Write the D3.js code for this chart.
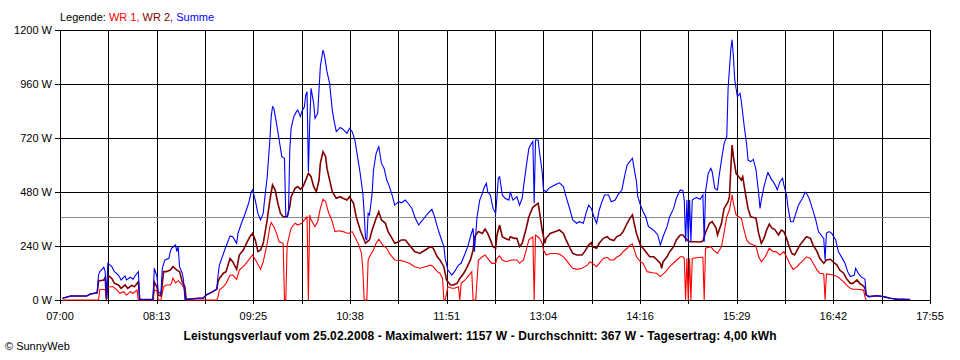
<!DOCTYPE html>
<html><head><meta charset="utf-8">
<script src="https://cdn.jsdelivr.net/npm/d3@7"></script>
<style>
body{margin:0;background:#fff}
svg{display:block}
text{font-family:"Liberation Sans",Arial,sans-serif;font-size:11px;fill:#000}
</style>
</head><body>
<svg id="chart" width="960" height="360"></svg>
<script>
const timeLabels = ["07:00","08:13","09:25","10:38","11:51","13:04","14:16","15:29","16:42","17:55"];
const wattTicks = [0,240,480,720,960,1200];
const averageW = 367;
const legendItems = [
  {label:"Legende: ", color:"#000000"},
  {label:"WR 1, ", color:"#ff0000"},
  {label:"WR 2, ", color:"#800000"},
  {label:"Summe", color:"#0000ff"}
];
const titleText = "Leistungsverlauf vom 25.02.2008 - Maximalwert: 1157 W - Durchschnitt: 367 W - Tagesertrag: 4,00 kWh";
const footerText = "\u00A9 SunnyWeb";

// WR 1 (red)
const wr1 = [
["07:02",0],["07:29",0],["07:30",47],["07:34",47],["07:35",0],["07:36",59],["07:40",59],["07:43",44],["07:45",30],["07:48",37],
["07:50",22],["07:53",37],["07:55",30],["07:58",44],["07:59",0],["08:10",0],["08:11",44],["08:13",40],["08:14",0],["08:16",0],
["08:18",59],["08:20",67],["08:23",67],["08:24",74],["08:25",98],["08:27",76],["08:29",86],["08:32",67],["08:34",44],["08:35",0],
["08:58",0],["08:59",15],["09:00",44],["09:03",59],["09:05",74],["09:08",110],["09:10",111],["09:13",92],["09:15",133],["09:19",155],
["09:23",185],["09:25",200],["09:28",170],["09:31",136],["09:33",170],["09:36",252],["09:38",326],["09:39",344],["09:41",326],["09:43",296],
["09:45",259],["09:48",252],["09:49",0],["09:50",0],["09:51",244],["09:53",296],["09:54",319],["09:57",341],["09:59",333],["10:02",341],
["10:04",356],["10:06",370],["10:07",0],["10:08",378],["10:09",356],["10:12",326],["10:14",348],["10:16",407],["10:18",448],["10:20",437],
["10:22",392],["10:25",348],["10:27",304],["10:30",308],["10:33",304],["10:37",296],["10:40",304],["10:42",281],["10:45",244],["10:47",207],
["10:48",133],["10:49",0],["10:51",0],["10:52",178],["10:53",192],["10:56",222],["10:58",252],["11:00",270],["11:03",244],["11:06",230],
["11:08",207],["11:12",178],["11:16",176],["11:20",170],["11:23",163],["11:27",148],["11:31",141],["11:35",148],["11:39",155],["11:41",148],
["11:44",126],["11:46",119],["11:48",96],["11:49",0],["11:50",0],["11:52",59],["11:55",52],["11:57",52],["12:00",59],["12:01",0],
["12:02",74],["12:05",89],["12:07",104],["12:10",126],["12:11",0],["12:13",0],["12:15",178],["12:18",192],["12:20",200],["12:22",185],
["12:25",163],["12:28",163],["12:29",185],["12:31",196],["12:33",178],["12:36",170],["12:40",178],["12:44",178],["12:46",163],["12:49",178],
["12:51",222],["12:53",267],["12:56",281],["12:57",0],["12:58",289],["13:00",280],["13:01",274],["13:03",252],["13:04",222],["13:06",200],
["13:09",207],["13:13",207],["13:16",204],["13:19",192],["13:21",178],["13:24",155],["13:26",141],["13:29",136],["13:33",141],["13:37",155],
["13:39",170],["13:41",163],["13:44",148],["13:46",163],["13:49",185],["13:52",190],["13:54",178],["13:57",178],["13:59",190],["14:02",200],
["14:04",215],["14:07",230],["14:09",244],["14:11",249],["14:12",230],["14:14",192],["14:17",170],["14:19",163],["14:22",126],["14:26",121],
["14:29",119],["14:32",104],["14:36",126],["14:39",148],["14:43",170],["14:47",192],["14:49",192],["14:50",185],["14:51",0],["14:52",185],
["14:53",0],["14:54",185],["14:55",0],["14:56",185],["14:59",188],["15:03",190],["15:04",190],["15:05",0],["15:06",230],["15:10",237],
["15:12",222],["15:15",207],["15:18",237],["15:20",300],["15:22",370],["15:24",400],["15:26",467],["15:27",430],["15:29",378],["15:31",370],
["15:33",363],["15:35",311],["15:37",267],["15:39",252],["15:42",244],["15:44",240],["15:46",192],["15:48",170],["15:51",192],["15:54",230],
["15:57",215],["15:59",215],["16:02",200],["16:05",215],["16:07",192],["16:10",155],["16:12",136],["16:15",148],["16:17",163],["16:20",178],
["16:22",192],["16:25",185],["16:27",163],["16:30",133],["16:32",119],["16:35",116],["16:36",0],["16:37",116],["16:42",111],["16:45",104],
["16:47",96],["16:50",81],["16:52",67],["16:55",52],["16:57",48],["17:00",48],["17:05",44],["17:06",15],["17:07",0]
];

// WR 2 (dark red)
const wr2 = [
["07:02",8],["07:08",18],["07:20",18],["07:23",27],["07:28",32],["07:29",85],["07:33",89],["07:34",100],["07:35",2],["07:36",111],
["07:39",96],["07:41",74],["07:44",67],["07:46",52],["07:49",67],["07:51",52],["07:54",65],["07:56",59],["07:59",81],["08:00",2],
["08:10",2],["08:11",81],["08:13",58],["08:14",22],["08:16",18],["08:18",126],["08:20",126],["08:23",133],["08:25",148],["08:28",133],
["08:30",126],["08:32",81],["08:34",59],["08:35",2],["08:42",7],["08:48",9],["08:50",22],["08:55",37],["08:58",48],["08:59",81],
["09:00",96],["09:03",119],["09:05",126],["09:08",185],["09:10",170],["09:13",136],["09:15",200],["09:18",222],["09:21",259],["09:23",281],
["09:25",296],["09:27",267],["09:29",215],["09:31",222],["09:33",252],["09:36",356],["09:38",444],["09:40",511],["09:42",489],["09:44",430],
["09:46",385],["09:48",370],["09:51",370],["09:53",415],["09:54",459],["09:57",496],["09:59",504],["10:01",492],["10:03",504],["10:05",533],
["10:07",563],["10:09",548],["10:11",504],["10:13",481],["10:15",533],["10:16",607],["10:18",659],["10:20",637],["10:21",585],["10:23",533],
["10:25",481],["10:28",452],["10:31",459],["10:33",452],["10:36",444],["10:38",459],["10:41",430],["10:43",370],["10:46",311],["10:48",281],
["10:50",252],["10:53",267],["10:55",311],["10:58",363],["11:00",392],["11:02",356],["11:05",341],["11:07",304],["11:10",274],["11:12",252],
["11:15",259],["11:17",267],["11:20",267],["11:23",244],["11:27",215],["11:31",207],["11:35",222],["11:39",237],["11:41",230],["11:44",192],
["11:46",178],["11:49",148],["11:51",89],["11:54",67],["11:56",67],["11:59",74],["12:01",96],["12:04",119],["12:06",141],["12:09",178],
["12:11",222],["12:12",281],["12:15",304],["12:18",296],["12:20",315],["12:22",296],["12:24",267],["12:26",237],["12:28",230],["12:29",289],
["12:31",333],["12:33",281],["12:35",274],["12:38",267],["12:39",281],["12:42",274],["12:44",274],["12:46",237],["12:48",252],["12:51",319],
["12:53",370],["12:56",412],["12:58",422],["13:00",430],["13:01",392],["13:03",311],["13:05",252],["13:06",274],["13:09",296],["13:13",304],
["13:16",311],["13:19",296],["13:21",267],["13:24",230],["13:26",207],["13:29",200],["13:33",200],["13:35",215],["13:38",244],["13:40",255],
["13:41",237],["13:44",230],["13:46",252],["13:49",274],["13:52",281],["13:54",270],["13:57",264],["13:59",281],["14:02",289],["14:04",304],
["14:07",341],["14:09",363],["14:11",378],["14:12",348],["14:14",296],["14:17",244],["14:19",230],["14:22",207],["14:24",192],["14:27",192],
["14:29",181],["14:32",163],["14:33",141],["14:34",170],["14:37",192],["14:39",215],["14:42",237],["14:44",267],["14:47",289],["14:49",289],
["14:52",267],["14:54",259],["14:58",259],["15:02",258],["15:04",262],["15:06",300],["15:09",341],["15:11",348],["15:14",319],["15:15",289],
["15:18",341],["15:20",407],["15:23",437],["15:24",459],["15:25",578],["15:26",689],["15:27",637],["15:29",563],["15:31",548],["15:33",533],
["15:34",548],["15:36",474],["15:38",407],["15:40",370],["15:42",367],["15:44",363],["15:46",296],["15:48",252],["15:50",274],["15:52",311],
["15:54",337],["15:56",319],["15:58",314],["16:01",289],["16:03",311],["16:05",304],["16:07",274],["16:09",237],["16:11",207],["16:13",200],
["16:15",222],["16:17",244],["16:20",267],["16:22",281],["16:25",274],["16:27",244],["16:30",215],["16:32",185],["16:35",163],["16:37",178],
["16:40",181],["16:42",170],["16:45",155],["16:47",133],["16:50",119],["16:52",96],["16:55",74],["16:57",74],["17:00",89],["17:02",74],
["17:05",62],["17:06",52],["17:07",22],["17:09",15],["17:15",19],["17:20",15],["17:25",8],["17:30",4],["17:40",2]
];

// Summe (blue)
const summe = [
["07:02",8],["07:08",18],["07:20",18],["07:23",27],["07:28",32],["07:29",111],["07:30",126],["07:33",145],["07:34",126],["07:35",3],
["07:36",163],["07:39",148],["07:41",126],["07:44",111],["07:46",89],["07:49",107],["07:50",89],["07:53",101],["07:55",92],["07:57",111],
["07:59",126],["08:00",2],["08:10",2],["08:11",141],["08:13",104],["08:14",36],["08:16",27],["08:17",141],["08:19",178],["08:22",185],
["08:23",215],["08:24",230],["08:27",244],["08:28",215],["08:29",237],["08:30",148],["08:32",119],["08:33",89],["08:34",3],["08:42",7],
["08:48",9],["08:50",22],["08:55",37],["08:58",48],["08:59",111],["09:00",155],["09:04",222],["09:08",285],["09:10",281],["09:13",252],
["09:14",296],["09:17",348],["09:19",378],["09:22",430],["09:24",481],["09:25",489],["09:27",444],["09:29",385],["09:31",356],["09:33",385],
["09:34",444],["09:36",548],["09:38",711],["09:39",815],["09:40",859],["09:41",852],["09:43",785],["09:45",711],["09:47",637],["09:49",630],
["09:50",370],["09:51",370],["09:52",385],["09:53",667],["09:54",763],["09:56",815],["09:58",837],["09:59",844],["10:01",815],["10:02",837],
["10:04",859],["10:05",911],["10:06",926],["10:07",570],["10:08",785],["10:09",941],["10:11",874],["10:12",807],["10:14",830],["10:15",933],
["10:16",1037],["10:18",1111],["10:19",1089],["10:21",1015],["10:23",963],["10:25",844],["10:26",807],["10:28",748],["10:31",767],["10:33",759],
["10:36",741],["10:38",763],["10:40",748],["10:42",711],["10:44",637],["10:46",563],["10:48",474],["10:49",385],["10:50",274],["10:51",267],
["10:52",385],["10:53",378],["10:55",474],["10:56",578],["10:58",652],["11:00",681],["11:02",607],["11:04",585],["11:06",533],["11:08",504],
["11:10",467],["11:12",422],["11:15",437],["11:17",432],["11:20",444],["11:22",430],["11:25",407],["11:27",370],["11:30",333],["11:32",348],
["11:35",370],["11:37",385],["11:40",403],["11:42",370],["11:44",326],["11:46",289],["11:49",237],["11:50",185],["11:52",133],["11:55",111],
["11:57",126],["12:00",155],["12:02",163],["12:05",207],["12:07",237],["12:09",281],["12:11",319],["12:12",215],["12:14",370],["12:16",444],
["12:18",474],["12:19",496],["12:21",519],["12:22",481],["12:24",467],["12:26",407],["12:28",385],["12:29",459],["12:30",541],["12:31",548],
["12:33",467],["12:35",452],["12:38",444],["12:39",481],["12:41",444],["12:44",459],["12:46",422],["12:48",452],["12:49",504],["12:51",593],
["12:53",674],["12:55",696],["12:56",704],["12:57",430],["12:58",711],["13:00",711],["13:01",659],["13:03",570],["13:04",489],["13:06",481],
["13:08",496],["13:11",507],["13:14",516],["13:16",521],["13:19",504],["13:21",459],["13:24",400],["13:26",356],["13:29",341],["13:31",348],
["13:34",341],["13:36",385],["13:38",422],["13:40",407],["13:42",370],["13:44",341],["13:46",400],["13:48",437],["13:50",467],["13:53",467],
["13:55",437],["13:58",444],["14:00",467],["14:03",489],["14:05",548],["14:07",600],["14:09",615],["14:11",630],["14:12",593],["14:14",526],
["14:15",459],["14:17",422],["14:19",392],["14:21",370],["14:23",326],["14:25",319],["14:28",304],["14:30",289],["14:32",244],["14:34",281],
["14:37",326],["14:39",370],["14:42",407],["14:44",452],["14:47",489],["14:49",486],["14:50",444],["14:51",259],["14:52",444],["14:53",259],
["14:54",444],["14:55",259],["14:56",444],["14:59",456],["15:02",448],["15:04",467],["15:05",259],["15:06",481],["15:08",563],["15:10",585],
["15:11",570],["15:13",496],["15:15",489],["15:16",541],["15:18",622],["15:20",696],["15:22",726],["15:23",941],["15:25",1111],["15:26",1157],
["15:27",1081],["15:28",978],["15:29",941],["15:30",904],["15:32",919],["15:33",881],["15:35",778],["15:37",689],["15:38",622],["15:40",615],
["15:42",625],["15:44",578],["15:46",474],["15:47",407],["15:48",444],["15:50",504],["15:52",548],["15:53",566],["15:56",533],["15:57",526],
["15:59",504],["16:00",489],["16:02",526],["16:04",541],["16:05",511],["16:07",467],["16:08",415],["16:10",348],["16:12",348],["16:14",385],
["16:16",422],["16:19",452],["16:21",479],["16:22",474],["16:24",452],["16:26",415],["16:29",356],["16:31",304],["16:34",281],["16:35",274],
["16:36",178],["16:37",296],["16:39",304],["16:41",296],["16:44",267],["16:46",215],["16:49",185],["16:51",163],["16:53",126],["16:55",104],
["16:58",111],["16:59",141],["17:01",119],["17:03",104],["17:05",96],["17:06",93],["17:07",22],["17:09",15],["17:15",19],["17:20",15],
["17:25",8],["17:30",4],["17:40",2]
];

(function draw() {
  const toMin = s => { const [h,m] = s.split(":").map(Number); return h*60+m; };

  const svg = d3.select("#chart");
  const pLeft = 60, pRight = 930, pTop = 30, pBottom = 300;

  const tStart = toMin(timeLabels[0]), tEnd = toMin(timeLabels[timeLabels.length-1]);
  const x = d3.scaleLinear().domain([tStart, tEnd]).range([pLeft, pRight]);
  const y = d3.scaleLinear().domain([0, 1200]).range([pBottom, pTop]);
  const px = v => Math.round(v) + 0.5;

  const nMajor = timeLabels.length - 1;
  const gridTimes = d3.range(nMajor*2 + 1).map(i => tStart + i*(tEnd - tStart)/(nMajor*2));

  const grid = svg.append("g").attr("shape-rendering","crispEdges");
  gridTimes.forEach(t => {
    grid.append("line").attr("x1",px(x(t))).attr("x2",px(x(t)))
      .attr("y1",pTop).attr("y2",pBottom+4).attr("stroke","#000");
  });
  wattTicks.forEach(w => {
    grid.append("line").attr("x1",pLeft-5).attr("x2",pRight+1)
      .attr("y1",px(y(w))).attr("y2",px(y(w))).attr("stroke","#000");
  });

  svg.append("g").selectAll("text").data(wattTicks).join("text")
    .attr("x", 52).attr("y", d => y(d) + 4).attr("text-anchor","end")
    .text(d => d + " W");

  svg.append("g").selectAll("text").data(timeLabels).join("text")
    .attr("x", (d,i) => x(tStart + i*(tEnd-tStart)/nMajor)).attr("y", 320).attr("text-anchor","middle")
    .text(d => d);

  svg.append("line").attr("shape-rendering","crispEdges")
    .attr("x1",pLeft+1).attr("x2",pRight).attr("y1",px(y(averageW))).attr("y2",px(y(averageW)))
    .attr("stroke","#8c8c8c");

  const line = d3.line().x(d => x(toMin(d[0]))).y(d => y(d[1]));
  const series = [
    {data: wr1, color:"#ff0000", w:1.1},
    {data: wr2, color:"#800000", w:1.6},
    {data: summe, color:"#0000ff", w:1.1}
  ];
  svg.append("g").selectAll("path").data(series).join("path")
    .attr("d", d => line(d.data)).attr("fill","none")
    .attr("stroke", d => d.color).attr("stroke-width", d => d.w)
    .attr("stroke-linejoin","miter");

  const lg = svg.append("text").attr("x", 60).attr("y", 21);
  legendItems.forEach(it => lg.append("tspan").style("fill", it.color).text(it.label));

  svg.append("text").attr("x", 480).attr("y", 340).attr("text-anchor","middle")
    .attr("textLength", 593).attr("lengthAdjust","spacing")
    .style("font-weight","bold").style("font-size","12px").text(titleText);

  svg.append("text").attr("x", 5).attr("y", 350).text(footerText);
})();
</script>
</body></html>
